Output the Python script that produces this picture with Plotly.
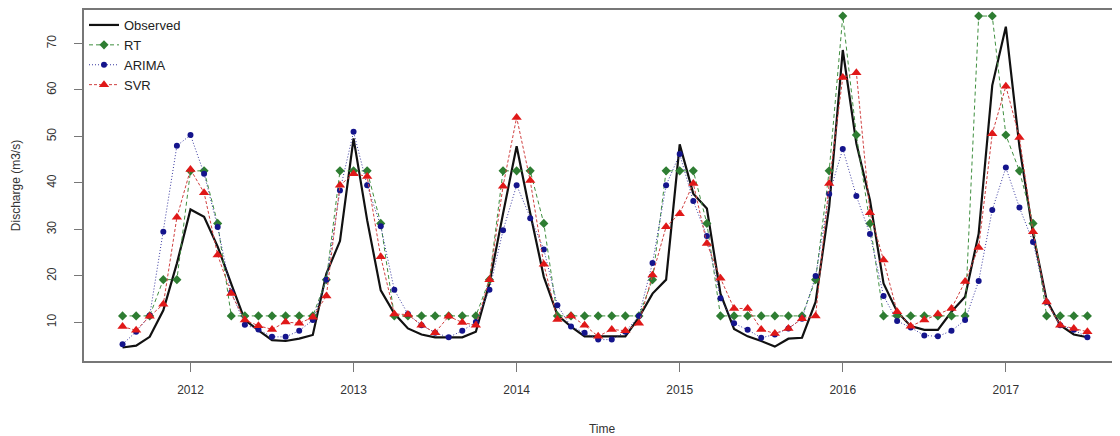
import plotly.graph_objects as go

start_year = 2011
start_month = 8  # August 2011, monthly series

observed = [4.6, 5.0, 6.9, 12.6, 22.7, 34.3, 32.7, 26.3, 18.3, 10.5, 8.3, 6.2,
            6.0, 6.5, 7.3, 20.5, 27.5, 49.6, 32.0, 16.9, 11.9, 8.7, 7.4, 6.8,
            6.8, 6.8, 8.0, 18.4, 33.4, 47.9, 33.5, 19.8, 11.6, 9.1, 7.0, 7.0,
            7.0, 7.0, 11.1, 16.2, 19.2, 48.3, 37.7, 34.5, 16.2, 8.6, 7.0, 6.0,
            4.8, 6.5, 6.7, 14.4, 34.9, 68.6, 48.5, 36.3, 18.4, 12.3, 9.2, 8.4,
            8.4, 12.3, 15.5, 29.1, 61.0, 73.6, 47.8, 29.1, 14.8, 9.4, 7.4, 6.8]

rt = [11.4, 11.4, 11.4, 19.2, 19.2, 42.6, 42.6, 31.3, 11.4, 11.4, 11.4, 11.4,
      11.4, 11.4, 11.4, 19.2, 42.6, 42.6, 42.6, 31.3, 11.4, 11.4, 11.4, 11.4,
      11.4, 11.4, 11.4, 19.2, 42.6, 42.6, 42.6, 31.3, 11.4, 11.4, 11.4, 11.4,
      11.4, 11.4, 11.4, 19.2, 42.6, 42.6, 42.6, 31.3, 11.4, 11.4, 11.4, 11.4,
      11.4, 11.4, 11.4, 19.2, 42.6, 75.9, 50.3, 31.3, 11.4, 11.4, 11.4, 11.4,
      11.4, 11.4, 11.4, 75.9, 75.9, 50.3, 42.6, 31.3, 11.4, 11.4, 11.4, 11.4]

arima = [5.3, 8.0, 11.5, 29.5, 48.0, 50.3, 42.0, 30.5, 16.5, 9.5, 8.5, 6.9,
         6.9, 8.2, 10.5, 19.2, 38.4, 51.0, 39.5, 30.7, 17.0, 11.8, 9.4, 7.8,
         6.8, 8.2, 10.1, 17.0, 29.8, 39.5, 32.4, 25.7, 13.7, 9.1, 7.8, 6.3,
         6.3, 8.0, 11.4, 22.8, 39.5, 46.2, 36.1, 28.6, 15.2, 9.8, 8.4, 6.7,
         7.4, 8.7, 10.8, 20.0, 37.6, 47.3, 37.2, 29.0, 15.7, 10.3, 8.9, 7.2,
         7.0, 8.2, 10.5, 18.9, 34.2, 43.3, 34.7, 27.3, 14.4, 9.4, 8.4, 6.8]

svr = [9.1, 8.3, 11.3, 13.9, 32.6, 42.9, 37.9, 24.5, 16.2, 10.5, 9.3, 8.5,
       10.1, 9.8, 11.1, 15.7, 39.5, 42.0, 41.4, 24.1, 11.8, 11.7, 9.4, 7.8,
       11.3, 10.0, 9.4, 19.2, 39.3, 54.1, 40.5, 22.5, 10.6, 11.4, 9.4, 7.0,
       8.5, 8.2, 9.8, 20.2, 30.6, 33.4, 39.9, 27.0, 19.5, 13.0, 13.0, 8.5,
       7.6, 8.7, 10.8, 11.4, 39.9, 62.7, 63.7, 33.6, 23.4, 12.3, 9.2, 10.5,
       11.8, 13.0, 18.8, 26.1, 50.6, 60.8, 49.8, 29.5, 14.4, 9.4, 8.7, 8.0]

year_ticks = [2012, 2013, 2014, 2015, 2016, 2017]
y_ticks = [10, 20, 30, 40, 50, 60, 70]

t = [start_year + (start_month - 1) / 12 + i / 12 for i in range(len(observed))]

FONT = "Liberation Sans, Arial, sans-serif"
fig = go.Figure()
fig.add_trace(go.Scatter(x=t, y=observed, name="Observed", mode="lines",
                         line=dict(color="#111111", width=2.2)))
fig.add_trace(go.Scatter(x=t, y=rt, name="RT", mode="lines+markers",
                         line=dict(color="#3f8f3f", width=1, dash="4px,3px"),
                         marker=dict(symbol="diamond", size=7, color="#2e7d32")))
fig.add_trace(go.Scatter(x=t, y=arima, name="ARIMA", mode="lines+markers",
                         line=dict(color="#3a3aa0", width=1, dash="1px,2px"),
                         marker=dict(symbol="circle", size=6, color="#14148c")))
fig.add_trace(go.Scatter(x=t, y=svr, name="SVR", mode="lines+markers",
                         line=dict(color="#d04040", width=1, dash="3px,2px"),
                         marker=dict(symbol="triangle-up", size=9, color="#e01818")))

fig.update_layout(
    width=1112, height=428,
    margin=dict(l=76, r=0, t=2, b=75),
    paper_bgcolor="white", plot_bgcolor="white",
    font=dict(family=FONT, size=13, color="#333333"),
    showlegend=True,
    legend=dict(x=0.0, y=1.0, xanchor="left", yanchor="top",
                bgcolor="rgba(0,0,0,0)", borderwidth=0,
                font=dict(size=13, color="#222222"), itemwidth=30,
                tracegroupgap=0),
    xaxis=dict(range=[2011.347, 2017.70], tickmode="array", tickvals=year_ticks,
               ticktext=[str(y) for y in year_ticks],
               showgrid=False, zeroline=False, showline=True, mirror=True,
               linecolor="#777777", linewidth=1.5, ticks="outside", ticklen=9,
               tickcolor="#777777", ticklabelstandoff=8,
               tickfont=dict(size=12, color="#333333"),
               title=dict(text="Time", font=dict(size=12, color="#333333"), standoff=28)),
    yaxis=dict(range=[1.7, 77.2], tickmode="array", tickvals=y_ticks,
               showgrid=False, zeroline=False, showline=True, mirror=False,
               linecolor="#777777", linewidth=1.5, ticks="outside", ticklen=8,
               tickcolor="#777777", tickangle=-90, ticklabelstandoff=13,
               tickfont=dict(size=12, color="#333333"),
               title=dict(text="Discharge (m3/s)", font=dict(size=12, color="#333333"),
                          standoff=22)),
)

fig.write_html("out.html")
